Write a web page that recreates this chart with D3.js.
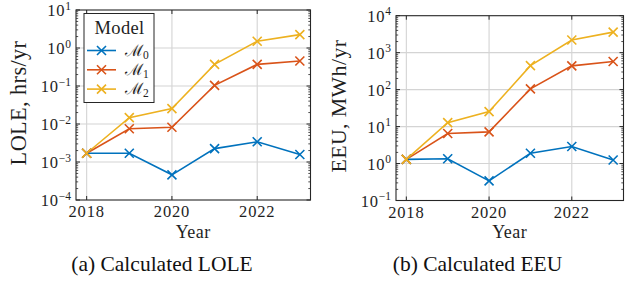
<!DOCTYPE html>
<html><head><meta charset="utf-8">
<script src="https://cdn.jsdelivr.net/npm/d3@7"></script>
<style>
html,body{margin:0;padding:0;background:#fff;}
svg{display:block;}
svg text{font-family:"Liberation Serif","Times New Roman";}
</style></head>
<body>
<svg id="chart" width="641" height="282"></svg>
<script>
const years = [2018, 2019, 2020, 2021, 2022, 2023];
const models = ["M0", "M1", "M2"];
const modelSub = ["0", "1", "2"];
const colors = ["#0072BD", "#D95319", "#EDB120"];
const loleM0 = [1.7e-3, 1.7e-3, 4.6e-4, 2.25e-3, 3.4e-3, 1.57e-3];
const loleM1 = [1.7e-3, 7.5e-3, 8.2e-3, 0.104, 0.37, 0.455];
const loleM2 = [1.7e-3, 0.0147, 0.0254, 0.37, 1.5, 2.25];
const eeuM0 = [1.3, 1.35, 0.34, 1.9, 2.9, 1.25];
const eeuM1 = [1.3, 6.5, 7.2, 105, 440, 575];
const eeuM2 = [1.3, 12.8, 25.4, 445, 2200, 3600];
const xTicks = [2018, 2020, 2022];
const loleExps = [-4, -3, -2, -1, 0, 1];
const eeuExps = [-1, 0, 1, 2, 3, 4];
const panelTitles = ["LOLE, hrs/yr", "EEU, MWh/yr"];
const captions = ["(a) Calculated LOLE", "(b) Calculated EEU"];
const xLabel = "Year";
const legendTitle = "Model";

const svg = d3.select("#chart");
const frameColor = "#262626";
const gridColor = "#d4d4d4";
const textColor = "#1e1e1e";

function fitSize(sel, target) {
  const base = +sel.attr("font-size");
  const len = sel.node().getComputedTextLength();
  if (len > 0) sel.attr("font-size", base * target / len);
}

function panel(cfg) {
  const {x0, x1, y0, y1, exps, series, ylabel, ylen, caption, capX, legend} = cfg;
  const g = svg.append("g");
  const x = d3.scaleLinear().domain([2017.75, 2023.25]).range([x0, x1]);
  const y = d3.scaleLog().domain([Math.pow(10, exps[0]), Math.pow(10, exps[exps.length-1])]).range([y1, y0]);

  // grid
  g.selectAll(".vg").data(xTicks).join("line")
    .attr("x1", d => x(d)).attr("x2", d => x(d)).attr("y1", y0).attr("y2", y1)
    .attr("stroke", gridColor).attr("stroke-width", 1.1);
  g.selectAll(".hg").data(exps.slice(1, -1)).join("line")
    .attr("x1", x0).attr("x2", x1).attr("y1", d => y(Math.pow(10, d))).attr("y2", d => y(Math.pow(10, d)))
    .attr("stroke", gridColor).attr("stroke-width", 1.1);

  // minor + major ticks (inward, all sides)
  const minors = [];
  for (let i = 0; i < exps.length - 1; i++) for (let k = 2; k <= 9; k++) minors.push(k * Math.pow(10, exps[i]));
  [x0, x1].forEach((xx, side) => {
    const dir = side === 0 ? 1 : -1;
    g.append("g").selectAll("line").data(minors).join("line")
      .attr("x1", xx).attr("x2", xx + dir * 2.2).attr("y1", d => y(d)).attr("y2", d => y(d))
      .attr("stroke", frameColor).attr("stroke-width", 0.8);
    g.append("g").selectAll("line").data(exps).join("line")
      .attr("x1", xx).attr("x2", xx + dir * 4).attr("y1", d => y(Math.pow(10, d))).attr("y2", d => y(Math.pow(10, d)))
      .attr("stroke", frameColor).attr("stroke-width", 1);
  });
  [y1, y0].forEach((yy, side) => {
    const dir = side === 0 ? -1 : 1;
    g.append("g").selectAll("line").data(xTicks).join("line")
      .attr("x1", d => x(d)).attr("x2", d => x(d)).attr("y1", yy).attr("y2", yy + dir * 4)
      .attr("stroke", frameColor).attr("stroke-width", 1);
  });

  // lines
  const line = d3.line().x((d, i) => x(years[i])).y(d => y(d));
  series.forEach((s, si) => {
    g.append("path").datum(s).attr("d", line).attr("fill", "none")
      .attr("stroke", colors[si]).attr("stroke-width", 1.6);
  });
  const ms = 4.5;
  series.forEach((s, si) => {
    g.append("g").selectAll("path").data(s).join("path")
      .attr("d", (d, i) => {
        const cx = x(years[i]), cy = y(d);
        return `M${cx-ms},${cy-ms}L${cx+ms},${cy+ms}M${cx-ms},${cy+ms}L${cx+ms},${cy-ms}`;
      })
      .attr("stroke", colors[si]).attr("stroke-width", 1.6).attr("fill", "none");
  });

  // frame
  g.append("rect").attr("x", x0).attr("y", y0).attr("width", x1 - x0).attr("height", y1 - y0)
    .attr("fill", "none").attr("stroke", frameColor).attr("stroke-width", 1.1);

  // tick labels
  g.selectAll(".xt").data(xTicks).join("text")
    .attr("x", d => x(d)).attr("y", y1 + 17).attr("text-anchor", "middle")
    .attr("font-size", 16.5).attr("letter-spacing", 0.8).attr("fill", textColor).text(d => d);
  exps.forEach(e => {
    const t = g.append("text").attr("x", x0 - 5).attr("y", y(Math.pow(10, e)) + 6.2)
      .attr("text-anchor", "end").attr("font-size", 16.5).attr("fill", textColor);
    t.append("tspan").attr("letter-spacing", 0.8).text("10");
    t.append("tspan").attr("dy", -6.5).attr("font-size", 11.5).text(e < 0 ? "\u2212" + (-e) : String(e));
  });

  // axis labels
  g.append("text").attr("x", (x0 + x1) / 2).attr("y", 238).attr("text-anchor", "middle")
    .attr("font-size", 18).attr("letter-spacing", 0.5).attr("fill", textColor).text(xLabel);
  const yl = g.append("text").attr("transform", `translate(${x0 - 50},${(y0 + y1) / 2 - 2}) rotate(-90)`)
    .attr("text-anchor", "middle").attr("font-size", 18).attr("letter-spacing", 0.4)
    .attr("fill", textColor).text(ylabel);
  fitSize(yl, ylen);

  // caption
  g.append("text").attr("x", capX).attr("y", 271).attr("text-anchor", "middle")
    .attr("font-size", 21.5).attr("fill", "#111").text(caption);

  if (legend) {
    const lg = g.append("g");
    lg.append("rect").attr("x", 84).attr("y", 13.5).attr("width", 70).attr("height", 89)
      .attr("fill", "#fff").attr("stroke", frameColor).attr("stroke-width", 1);
    lg.append("text").attr("x", 119.5).attr("y", 34).attr("text-anchor", "middle")
      .attr("font-size", 18.5).attr("letter-spacing", 0.3).attr("fill", textColor).text(legendTitle);
    models.forEach((m, i) => {
      const ly = 50.5 + i * 19.3;
      lg.append("line").attr("x1", 87).attr("x2", 116).attr("y1", ly).attr("y2", ly)
        .attr("stroke", colors[i]).attr("stroke-width", 1.6);
      const cx = 101.5;
      lg.append("path").attr("d", `M${cx-ms},${ly-ms}L${cx+ms},${ly+ms}M${cx-ms},${ly+ms}L${cx+ms},${ly-ms}`)
        .attr("stroke", colors[i]).attr("stroke-width", 1.6);
      const t = lg.append("text").attr("x", 125).attr("y", ly + 5)
        .attr("font-size", 16).attr("fill", textColor);
      t.append("tspan").text("\u2133");
      t.append("tspan").attr("dy", 3).attr("font-size", 11.5).text(modelSub[i]);
    });
  }
}

panel({x0: 76, x1: 310.5, y0: 10, y1: 200, exps: loleExps, series: [loleM0, loleM1, loleM2],
  ylabel: panelTitles[0], ylen: 126, caption: captions[0], capX: 162, legend: true});
panel({x0: 396, x1: 623.5, y0: 15.7, y1: 200.5, exps: eeuExps, series: [eeuM0, eeuM1, eeuM2],
  ylabel: panelTitles[1], ylen: 134, caption: captions[1], capX: 477.5, legend: false});
</script>
</body></html>
